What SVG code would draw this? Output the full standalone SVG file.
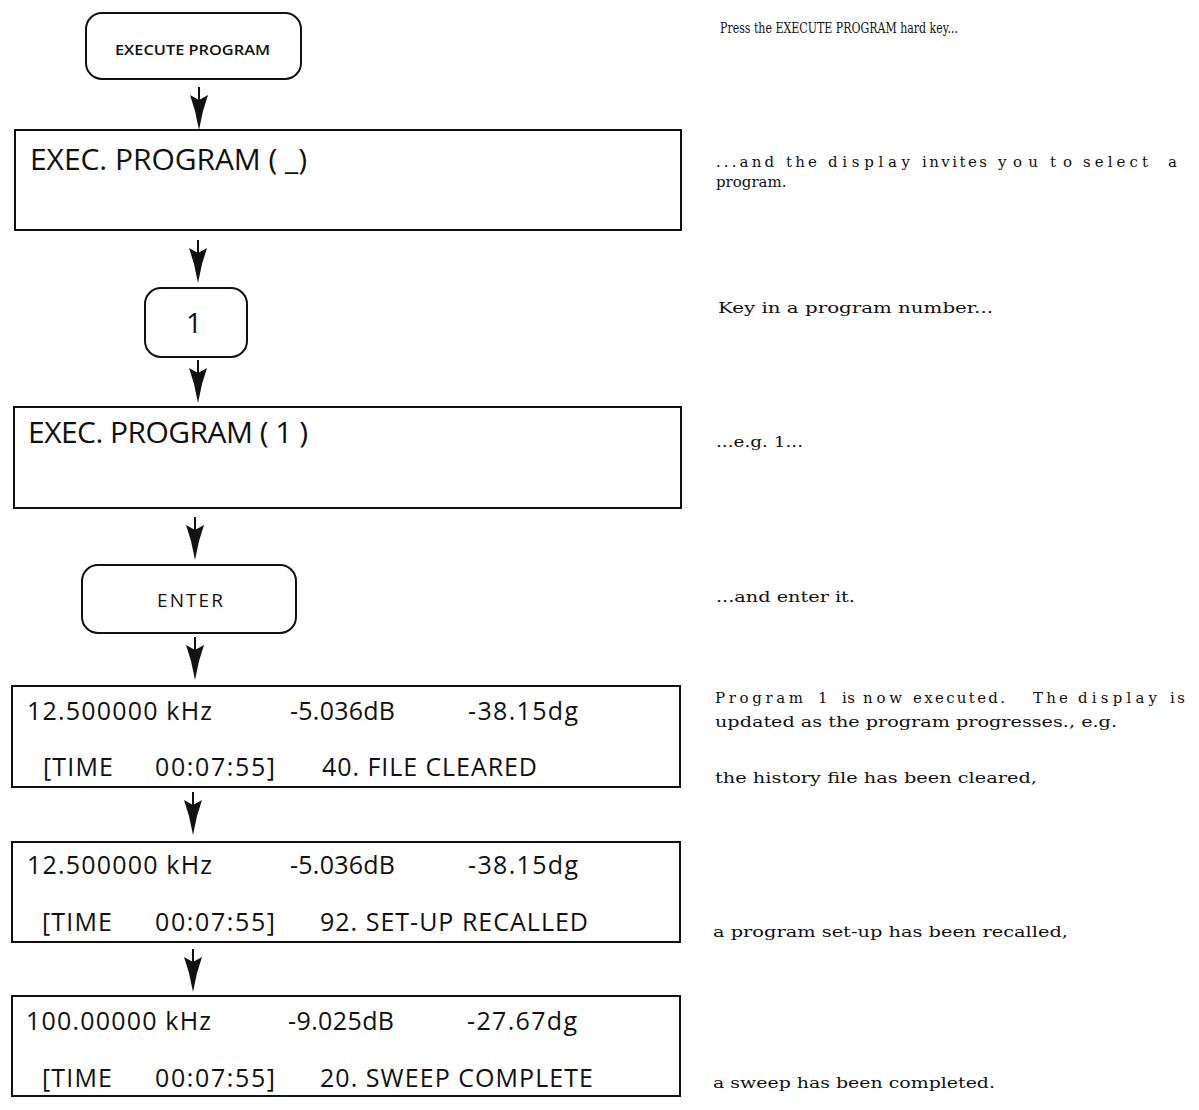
<svg xmlns="http://www.w3.org/2000/svg" width="1199" height="1110" viewBox="0 0 1199 1110">
<style>
.key{fill:#fff;stroke:#111;stroke-width:2}
.disp{fill:#fff;stroke:#111;stroke-width:2}
.dt{font-family:"Open Sans","Noto Sans",sans-serif;fill:#111}
.big{font-size:30px}
.row{font-size:25px}
.note{font-family:"DejaVu Serif","Liberation Serif",serif;font-size:15px;fill:#111}
.shaft{stroke:#111;stroke-width:2;fill:none}
.head{fill:#111}
</style>
<defs>
<g id="arrow">
<line class="shaft" x1="0" y1="0" x2="0" y2="14"/>
<path class="head" d="M0,13 L-9,8 L-4,24 L0,43 L4,24 L9,8 Z"/>
</g>
</defs>
<rect width="1199" height="1110" fill="#fff"/>

<g id="connectors">
<use href="#arrow" x="199" y="87"/>
<use href="#arrow" x="198" y="240"/>
<use href="#arrow" x="198" y="360"/>
<use href="#arrow" x="195" y="517"/>
<use href="#arrow" x="195" y="637"/>
<use href="#arrow" x="193" y="792"/>
<use href="#arrow" x="193" y="949"/>
</g>

<g id="key-execute">
<rect class="key" x="86" y="13" width="215" height="66" rx="16"/>
<text class="dt" x="115" y="55" font-size="15" font-weight="600" textLength="155" lengthAdjust="spacingAndGlyphs">EXECUTE PROGRAM</text>
</g>

<g id="display-1">
<rect class="disp" x="15" y="130" width="666" height="100"/>
<text class="dt big" x="30" y="170" textLength="277" lengthAdjust="spacing">EXEC. PROGRAM (  _)</text>
</g>

<g id="key-1">
<rect class="key" x="145" y="288" width="102" height="69" rx="16"/>
<text class="dt" x="194" y="333" font-size="28" text-anchor="middle">1</text>
</g>

<g id="display-2">
<rect class="disp" x="14" y="407" width="667" height="101"/>
<text class="dt big" x="28" y="443" textLength="280" lengthAdjust="spacing">EXEC. PROGRAM ( 1 )</text>
</g>

<g id="key-enter">
<rect class="key" x="82" y="565" width="214" height="68" rx="16"/>
<text class="dt" x="157" y="607" font-size="19" textLength="66" lengthAdjust="spacing">ENTER</text>
</g>

<g id="display-3">
<rect class="disp" x="12" y="686" width="668" height="101"/>
<text class="dt row" x="27" y="720" textLength="185" lengthAdjust="spacing">12.500000 kHz</text>
<text class="dt row" x="290" y="720" textLength="105" lengthAdjust="spacing">-5.036dB</text>
<text class="dt row" x="468" y="720" textLength="110" lengthAdjust="spacing">-38.15dg</text>
<text class="dt row" x="43" y="776" textLength="70" lengthAdjust="spacing">[TIME</text>
<text class="dt row" x="155" y="776" textLength="120" lengthAdjust="spacing">00:07:55]</text>
<text class="dt row" x="322" y="776" textLength="215" lengthAdjust="spacing">40. FILE CLEARED</text>
</g>

<g id="display-4">
<rect class="disp" x="12" y="842" width="668" height="100"/>
<text class="dt row" x="27" y="874" textLength="185" lengthAdjust="spacing">12.500000 kHz</text>
<text class="dt row" x="290" y="874" textLength="105" lengthAdjust="spacing">-5.036dB</text>
<text class="dt row" x="468" y="874" textLength="110" lengthAdjust="spacing">-38.15dg</text>
<text class="dt row" x="42" y="931" textLength="70" lengthAdjust="spacing">[TIME</text>
<text class="dt row" x="155" y="931" textLength="120" lengthAdjust="spacing">00:07:55]</text>
<text class="dt row" x="320" y="931" textLength="268" lengthAdjust="spacing">92. SET-UP RECALLED</text>
</g>

<g id="display-5">
<rect class="disp" x="12" y="996" width="668" height="100"/>
<text class="dt row" x="26" y="1030" textLength="185" lengthAdjust="spacing">100.00000 kHz</text>
<text class="dt row" x="288" y="1030" textLength="106" lengthAdjust="spacing">-9.025dB</text>
<text class="dt row" x="467" y="1030" textLength="110" lengthAdjust="spacing">-27.67dg</text>
<text class="dt row" x="42" y="1087" textLength="70" lengthAdjust="spacing">[TIME</text>
<text class="dt row" x="155" y="1087" textLength="120" lengthAdjust="spacing">00:07:55]</text>
<text class="dt row" x="320" y="1087" textLength="273" lengthAdjust="spacing">20. SWEEP COMPLETE</text>
</g>

<g id="notes">
<text class="note" x="720" y="33" textLength="238" lengthAdjust="spacingAndGlyphs">Press the EXECUTE PROGRAM hard key...</text>
<text class="note" y="167"><tspan x="716" textLength="58" lengthAdjust="spacing">...and</tspan><tspan x="786" textLength="31" lengthAdjust="spacing">the</tspan><tspan x="828" textLength="82" lengthAdjust="spacing">display</tspan><tspan x="922" textLength="65" lengthAdjust="spacing">invites</tspan><tspan x="998" textLength="40" lengthAdjust="spacing">you</tspan><tspan x="1050" textLength="22" lengthAdjust="spacing">to</tspan><tspan x="1083" textLength="65" lengthAdjust="spacing">select</tspan><tspan x="1168">a</tspan></text>
<text class="note" x="716" y="187">program.</text>
<text class="note" x="718" y="313" textLength="275" lengthAdjust="spacingAndGlyphs">Key in a program number...</text>
<text class="note" x="716" y="447" textLength="87" lengthAdjust="spacingAndGlyphs">...e.g. 1...</text>
<text class="note" x="716" y="602" textLength="139" lengthAdjust="spacingAndGlyphs">...and enter it.</text>
<text class="note" y="703"><tspan x="715" textLength="88" lengthAdjust="spacing">Program</tspan><tspan x="818">1</tspan><tspan x="842" textLength="13" lengthAdjust="spacing">is</tspan><tspan x="863" textLength="39" lengthAdjust="spacing">now</tspan><tspan x="913" textLength="92" lengthAdjust="spacing">executed.</tspan><tspan x="1033" textLength="35" lengthAdjust="spacing">The</tspan><tspan x="1078" textLength="79" lengthAdjust="spacing">display</tspan><tspan x="1170" textLength="15" lengthAdjust="spacing">is</tspan></text>
<text class="note" x="715" y="727" textLength="402" lengthAdjust="spacingAndGlyphs">updated as the program progresses., e.g.</text>
<text class="note" x="715" y="783" textLength="322" lengthAdjust="spacingAndGlyphs">the history file has been cleared,</text>
<text class="note" x="713" y="937" textLength="355" lengthAdjust="spacingAndGlyphs">a program set-up has been recalled,</text>
<text class="note" x="713" y="1088" textLength="282" lengthAdjust="spacingAndGlyphs">a sweep has been completed.</text>
</g>
</svg>
